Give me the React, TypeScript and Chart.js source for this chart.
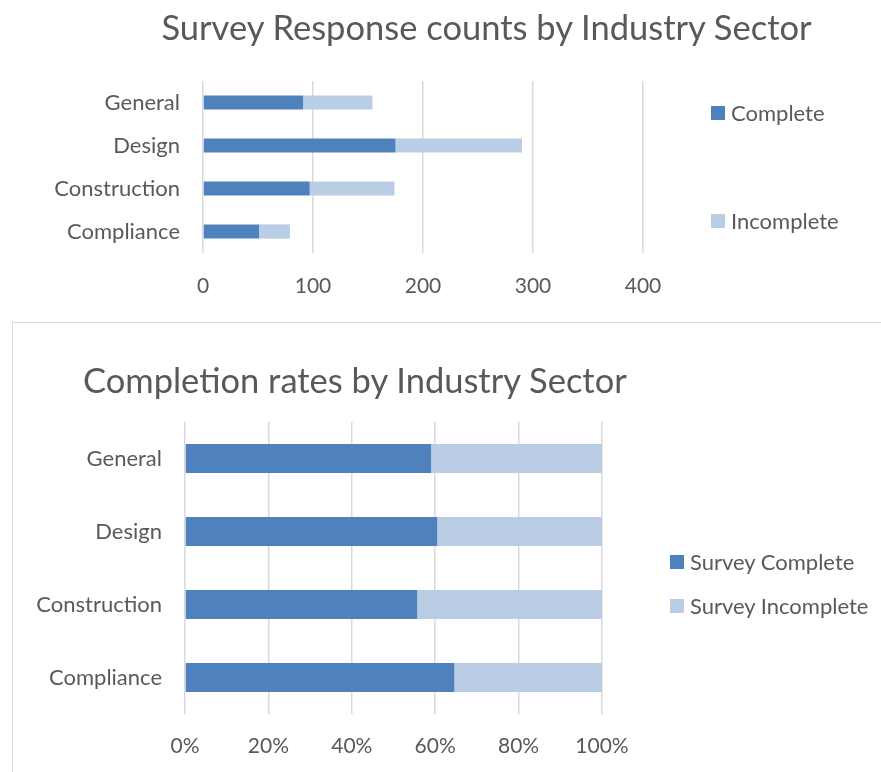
import React, { useEffect, useRef } from "react";
import { Chart, registerables } from "chart.js";

Chart.register(...registerables);

const categories = ["General", "Design", "Construction", "Compliance"];
const completeCounts = [91, 175, 97, 51];
const incompleteCounts = [63, 115, 77, 28];
const completePct = [59, 60.5, 55.7, 64.6];
const incompletePct = [41, 39.5, 44.3, 35.4];
const countTicks = [0, 100, 200, 300, 400];
const pctTicks = [0, 20, 40, 60, 80, 100];

const FONT = "Lato, 'Open Sans', sans-serif";
const TEXT = "#595959";
const GRID = "#d9d9d9";
const DARK = "#4f81bd";
const LIGHT = "#b9cde5";

type ChartProps = {
  width: number;
  height: number;
  config: any;
};

function ChartCanvas({ width, height, config }: ChartProps) {
  const ref = useRef<HTMLCanvasElement | null>(null);
  useEffect(() => {
    if (!ref.current) return;
    const chart = new Chart(ref.current, config);
    return () => chart.destroy();
  }, []);
  return (
    <canvas
      ref={ref}
      width={width}
      height={height}
      style={{ display: "block", width, height }}
    />
  );
}

function makeConfig(opts: {
  complete: number[];
  incomplete: number[];
  labels: [string, string];
  max: number;
  step: number;
  tickFmt: (v: number) => string;
  barPct: number;
  padding: { left: number; right: number; top: number; bottom: number };
  yWidth: number;
  xHeight: number;
  xPad: number;
  yPad: number;
  catSize: number;
  tickSize: number;
}) {
  return {
    type: "bar",
    data: {
      labels: categories,
      datasets: [
        {
          label: opts.labels[0],
          data: opts.complete,
          backgroundColor: DARK,
          categoryPercentage: 1,
          barPercentage: opts.barPct,
        },
        {
          label: opts.labels[1],
          data: opts.incomplete,
          backgroundColor: LIGHT,
          categoryPercentage: 1,
          barPercentage: opts.barPct,
        },
      ],
    },
    options: {
      indexAxis: "y",
      responsive: false,
      animation: false,
      devicePixelRatio: 1,
      layout: { padding: opts.padding },
      plugins: {
        legend: { display: false },
        title: { display: false },
        tooltip: { enabled: false },
      },
      scales: {
        x: {
          stacked: true,
          min: 0,
          max: opts.max,
          grid: { color: GRID, lineWidth: 1.5, drawTicks: false },
          border: { display: false },
          ticks: {
            stepSize: opts.step,
            color: TEXT,
            padding: opts.xPad,
            font: { family: FONT, size: opts.tickSize },
            callback: (v: any) => opts.tickFmt(Number(v)),
          },
          afterFit: (s: any) => {
            s.height = opts.xHeight;
          },
        },
        y: {
          stacked: true,
          grid: { display: false, drawTicks: false },
          border: { display: false },
          ticks: {
            color: TEXT,
            padding: opts.yPad,
            font: { family: FONT, size: opts.catSize },
          },
          afterFit: (s: any) => {
            s.width = opts.yWidth;
          },
        },
      },
    },
  };
}

const config1 = makeConfig({
  complete: completeCounts,
  incomplete: incompleteCounts,
  labels: ["Complete", "Incomplete"],
  max: countTicks[countTicks.length - 1],
  step: countTicks[1] - countTicks[0],
  tickFmt: (v) => String(v),
  barPct: 0.33,
  padding: { left: 10, right: 238, top: 81, bottom: 0 },
  yWidth: 193,
  xHeight: 57,
  xPad: 21,
  yPad: 23,
  catSize: 22,
  tickSize: 21,
});

const config2 = makeConfig({
  complete: completePct,
  incomplete: incompletePct,
  labels: ["Survey Complete", "Survey Incomplete"],
  max: pctTicks[pctTicks.length - 1],
  step: pctTicks[1] - pctTicks[0],
  tickFmt: (v) => v + "%",
  barPct: 0.4,
  padding: { left: 12, right: 279, top: 99, bottom: 0 },
  yWidth: 160,
  xHeight: 58,
  xPad: 20,
  yPad: 23,
  catSize: 22,
  tickSize: 21,
});

const legendItem = (label: string, color: string, left: number, top: number, size: number) => (
  <div
    key={label}
    style={{
      position: "absolute",
      left,
      top,
      display: "flex",
      alignItems: "center",
      fontFamily: FONT,
      fontSize: size,
      color: TEXT,
      whiteSpace: "nowrap",
      lineHeight: 1,
    }}
  >
    <span
      style={{
        display: "inline-block",
        width: 14,
        height: 14,
        background: color,
        marginRight: 6,
      }}
    />
    <span>{label}</span>
  </div>
);

export default function App() {
  return (
    <div
      style={{
        position: "absolute",
        left: 0,
        top: 0,
        width: 881,
        height: 772,
        background: "#fff",
        overflow: "hidden",
      }}
    >
      <div style={{ position: "absolute", left: 0, top: 0 }}>
        <ChartCanvas width={881} height={310} config={config1} />
      </div>
      <div
        style={{
          position: "absolute",
          left: 0,
          top: 6,
          width: 973,
          textAlign: "center",
          fontFamily: FONT,
          fontSize: 34.5,
          color: TEXT,
          lineHeight: 1.2,
          whiteSpace: "nowrap",
        }}
      >
        Survey Response counts by Industry Sector
      </div>
      {legendItem("Complete", DARK, 711, 102, 22)}
      {legendItem("Incomplete", LIGHT, 711, 210, 22)}

      <div
        style={{
          position: "absolute",
          left: 12,
          top: 322,
          width: 868,
          height: 449,
          borderLeft: `1px solid ${GRID}`,
          borderTop: `1px solid ${GRID}`,
        }}
      >
        <ChartCanvas width={868} height={449} config={config2} />
      </div>
      <div
        style={{
          position: "absolute",
          left: 83,
          top: 359,
          fontFamily: FONT,
          fontSize: 34.5,
          color: TEXT,
          lineHeight: 1.2,
          whiteSpace: "nowrap",
        }}
      >
        Completion rates by Industry Sector
      </div>
      {legendItem("Survey Complete", DARK, 670, 551, 22)}
      {legendItem("Survey Incomplete", LIGHT, 670, 595, 22)}
    </div>
  );
}
